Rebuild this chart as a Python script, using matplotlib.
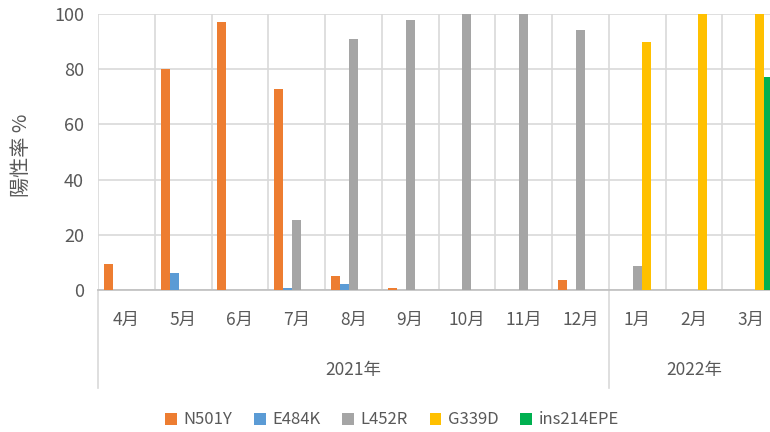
import matplotlib.pyplot as plt
import matplotlib.transforms as mtransforms
import numpy as np

plt.rcParams['font.family'] = ['Noto Sans CJK JP', 'DejaVu Sans']

months = ["4月", "5月", "6月", "7月", "8月", "9月", "10月", "11月", "12月", "1月", "2月", "3月"]
years = ["2021年", "2022年"]
year_counts = [9, 3]
series = ["N501Y", "E484K", "L452R", "G339D", "ins214EPE"]
n501y = [9.5, 80, 97, 73, 5, 0.7, 0, 0, 3.8, 0, 0, 0]
e484k = [0, 6.3, 0, 0.7, 2, 0, 0, 0, 0, 0, 0, 0]
l452r = [0, 0, 0, 25.2, 91, 98, 100, 100, 94.2, 8.7, 0, 0]
g339d = [0, 0, 0, 0, 0, 0, 0, 0, 0, 90, 100, 100]
ins214epe = [0, 0, 0, 0, 0, 0, 0, 0, 0, 0, 0, 77]
colors = ["#ED7D31", "#5B9BD5", "#A5A5A5", "#FFC000", "#00B050"]

txt = "#595959"
grid = "#d9d9d9"

fig = plt.figure(figsize=(7.7, 4.32), dpi=100)
ax = fig.add_axes([98 / 770, 1 - 290 / 432, 681 / 770, 276 / 432])

x = np.arange(len(months)) + 0.5
w = 0.159
for j, (name, vals) in enumerate(zip(series, [n501y, e484k, l452r, g339d, ins214epe])):
    ax.bar(x + (j - 2) * w, vals, w, color=colors[j], label=name, zorder=3)

ax.set_xlim(0, len(months))
ax.set_ylim(0, 100)
ax.set_yticks(range(0, 101, 20))
ax.set_xticks(range(len(months) + 1))
ax.set_xticklabels([])
ax.tick_params(length=0, labelsize=13, colors=txt, pad=10)
ax.grid(True, color=grid, lw=1.2, zorder=0)
for s in ["top", "right", "left"]:
    ax.spines[s].set_visible(False)
ax.spines["bottom"].set_color("#bfbfbf")
ax.spines["bottom"].set_linewidth(1.2)
ax.set_ylabel("陽性率 %", fontsize=14.5, color=txt)
ax.yaxis.set_label_coords(-66 / 681, 135 / 276)

trans = mtransforms.blended_transform_factory(ax.transData, ax.transAxes)
for xi, m in zip(x, months):
    ax.text(xi, -30 / 276, m, transform=trans, ha="center", va="center",
            fontsize=12.5, color=txt)

# year groups and separators
start = 0
for yr, cnt in zip(years, year_counts):
    ax.text(start + cnt / 2, -80 / 276, yr, transform=trans, ha="center",
            va="center", fontsize=12.5, color=txt)
    start += cnt
for bx in [0, year_counts[0], len(months)]:
    ax.plot([bx, bx], [0, -98 / 276], transform=trans, color=grid, lw=1.2,
            clip_on=False)

fig.legend(loc="center", bbox_to_anchor=(392 / 770, 1 - 420 / 432), ncol=5,
           frameon=False, fontsize=12, handlelength=0.7, handleheight=0.7,
           handletextpad=0.4, columnspacing=1.3, labelcolor=txt)

fig.savefig("out.png", dpi=100)
